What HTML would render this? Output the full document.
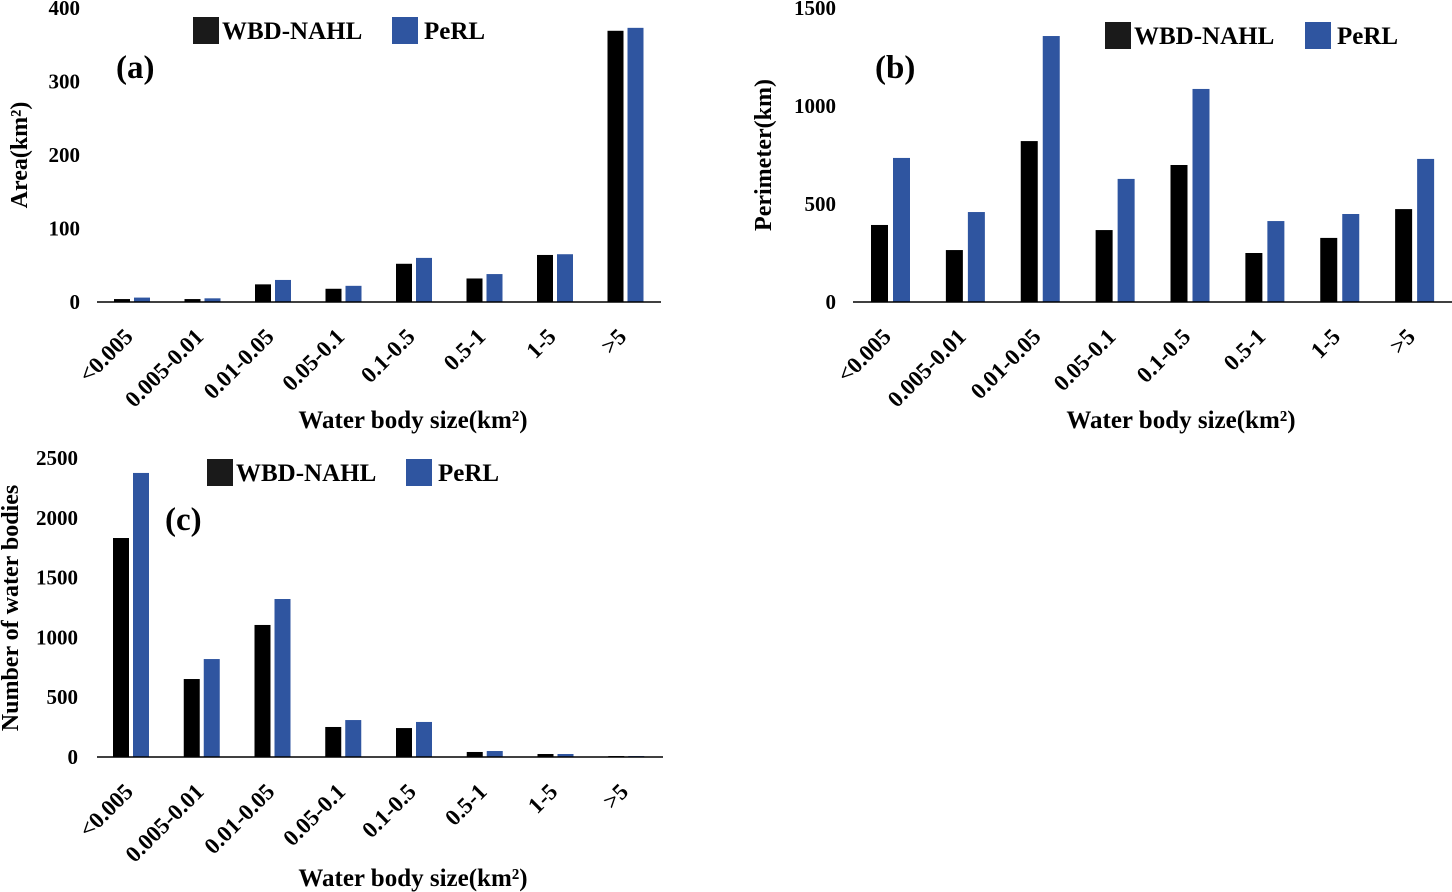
<!DOCTYPE html>
<html><head><meta charset="utf-8">
<style>
html,body{margin:0;padding:0;background:#fff;}
svg{display:block;font-family:"Liberation Serif",serif;font-weight:bold;}
</style></head>
<body>
<svg id="chart" width="1452" height="892" viewBox="0 0 1452 892" xmlns="http://www.w3.org/2000/svg"></svg>
<script>
const categories = ["<0.005","0.005-0.01","0.01-0.05","0.05-0.1","0.1-0.5","0.5-1","1-5",">5"];
const areaWBD = [4,4,24,18,52,32,64,369];
const areaPeRL = [6,5,30,22,60,38,65,373];
const perimWBD = [393,265,821,367,699,250,327,474];
const perimPeRL = [735,459,1357,628,1087,413,449,730];
const countWBD = [1831,652,1104,251,242,42,25,8];
const countPeRL = [2375,819,1321,309,293,50,25,8];
const areaTicks = [0,100,200,300,400];
const perimTicks = [0,500,1000,1500];
const countTicks = [0,500,1000,1500,2000,2500];

const NS="http://www.w3.org/2000/svg";
const svg=document.getElementById('chart');
function mk(tag,attrs,parent,text){
  const e=document.createElementNS(NS,tag);
  for(const k in attrs) e.setAttribute(k,attrs[k]);
  if(text!==undefined) e.textContent=text;
  (parent||svg).appendChild(e);
  return e;
}
function panel(o){
  const g=mk('g',{});
  
  
  const yMax=o.ticks[o.ticks.length-1];
  const y=v=>o.y0-(v/yMax)*(o.y0-o.yTop);
  const gw=(o.x1-o.x0)/categories.length;
  o.ticks.forEach(t=>{
    const tl=mk('text',{x:o.tickX,y:y(t)+7,'text-anchor':'end','font-size':21},g,String(t));
    
    
  });
  categories.forEach((c,i)=>{
    const gx=o.x0+i*gw;
    const bw=o.bw;
    const b1=mk('rect',{x:gx+o.off,y:y(o.s1[i]),width:bw,height:o.y0-y(o.s1[i]),fill:'#000'},g);
    
    
    const b2=mk('rect',{x:gx+o.off+bw+o.gap,y:y(o.s2[i]),width:bw,height:o.y0-y(o.s2[i]),fill:'#2f55a0'},g);
    
    
    const cx=gx+gw/2+2;
    const cy=o.y0+36;
    const lab=mk('text',{x:cx,y:cy,'text-anchor':'end','font-size':23,transform:`rotate(-45 ${cx} ${cy})`},g,c);
    
    
  });
  const ax=mk('line',{x1:o.x0,y1:o.y0,x2:o.x1,y2:o.y0,stroke:'#000','stroke-width':1.5},g);
  
  
  const l1=mk('rect',{x:o.lx1,y:o.ly,width:26,height:27,fill:'#1a1a1a'},g);
  
  
  const t1=mk('text',{x:o.lx1+29,y:o.ly+22,'font-size':25},g,'WBD-NAHL');
  
  
  const l2=mk('rect',{x:o.lx2,y:o.ly,width:26,height:27,fill:'#2f55a0'},g);
  
  
  const t2=mk('text',{x:o.lx2+32,y:o.ly+22,'font-size':25},g,'PeRL');
  
  
  const pl=mk('text',{x:o.px,y:o.py,'font-size':33},g,o.plabel);
  
  
  const yt=mk('text',{x:o.ytx,y:o.yty,'text-anchor':'middle','font-size':24,transform:`rotate(-90 ${o.ytx} ${o.yty})`},g,o.ytitle);
  
  
  const xt=mk('text',{x:o.xtx,y:o.xty,'text-anchor':'middle','font-size':25},g,'Water body size(km²)');
  
  
}
panel({name:'panel-a-area',s1:areaWBD,s2:areaPeRL,ticks:areaTicks,x0:97,x1:661,y0:302,yTop:8,bw:16,off:17,gap:4,tickX:80,
  lx1:193,lx2:392,ly:17,px:116,py:78,plabel:'(a)',ytx:27,yty:155,ytitle:'Area(km²)',xtx:413,xty:428});
panel({name:'panel-b-perimeter',s1:perimWBD,s2:perimPeRL,ticks:perimTicks,x0:853,x1:1452,y0:302,yTop:8,bw:17,off:18,gap:5,tickX:836,
  lx1:1105,lx2:1305,ly:22,px:875,py:78,plabel:'(b)',ytx:771,yty:155,ytitle:'Perimeter(km)',xtx:1181,xty:428});
panel({name:'panel-c-count',s1:countWBD,s2:countPeRL,ticks:countTicks,x0:97,x1:663,y0:757,yTop:458,bw:16,off:16,gap:4,tickX:78,
  lx1:207,lx2:406,ly:459,px:165,py:530,plabel:'(c)',ytx:18,yty:608,ytitle:'Number of water bodies',xtx:413,xty:886});
</script>
</body></html>
